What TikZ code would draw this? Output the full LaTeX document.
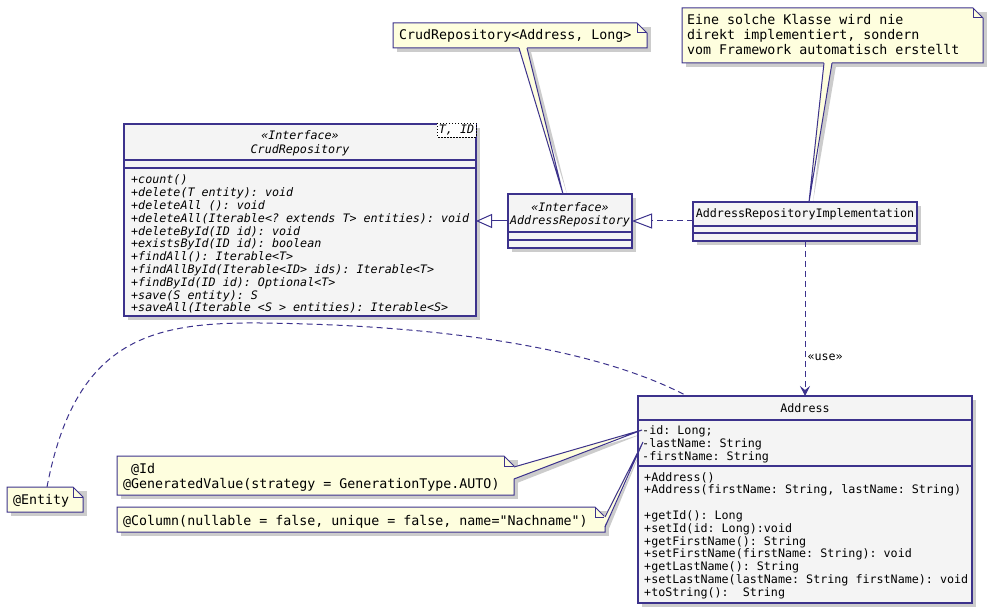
\documentclass[tikz,border=0pt]{standalone}
\usepackage{fontspec}
\setmonofont{DejaVu Sans Mono}
\usetikzlibrary{calc,arrows.meta,positioning}

\definecolor{umlline}{RGB}{60,50,140}
\definecolor{umlfill}{RGB}{244,244,244}
\definecolor{notefill}{RGB}{254,254,222}
\definecolor{shadowgray}{RGB}{204,204,204}

\newcommand{\clsfont}{\fontsize{11.7}{12.8}\selectfont\ttfamily}
\newcommand{\notefont}{\fontsize{13.3}{15}\selectfont\ttfamily}

\tikzset{
  umlbox/.style={draw=umlline, fill=umlfill, line width=1.2pt},
  umlnote/.style={draw=umlline, fill=notefill, line width=1pt},
  umlshadow/.style={fill=shadowgray},
  clstext/.style={inner sep=0pt, font=\clsfont},
  clsital/.style={inner sep=0pt, font=\clsfont\itshape},
  notetext/.style={inner sep=0pt, anchor=base west, font=\notefont},
  umlline/.style={draw=umlline, line width=1pt},
  umldash/.style={umlline, dash pattern=on 6pt off 4pt},
}

\begin{document}
\begin{tikzpicture}[x=1pt,y=-1pt]
\useasboundingbox (0,0) rectangle (993,612);

\coordinate (crudNW) at (124,124);
\coordinate (crudSE) at (476,316);
\coordinate (repoNW) at (508,194);
\coordinate (repoSE) at (632,248);
\coordinate (implNW) at (693,202);
\coordinate (implSE) at (917,241);
\coordinate (addrNW) at (638,396);
\coordinate (addrSE) at (972,603);

% connector ends
\coordinate (crudE) at (476,221);
\coordinate (repoW) at (508,221);
\coordinate (repoE) at (632,221);
\coordinate (repoN) at (563,194);
\coordinate (implW) at (693,221);
\coordinate (implS) at (805,241);
\coordinate (implN) at (809,202);
\coordinate (addrN) at (805,396);
\coordinate (addrTop) at (687,396);
\coordinate (addrId) at (642,430);
\coordinate (addrLast) at (643,442);
\coordinate (entityN) at (47,487);

% shadows
\foreach \a/\b in {crudNW/crudSE, repoNW/repoSE, implNW/implSE, addrNW/addrSE}{
  \fill[umlshadow] ($(\a)+(4,4)$) rectangle ($(\b)+(4,4)$);}
\foreach \xa/\ya/\xb/\yb in {393/23/647/48, 682/8/983/63, 7/487/83/512, 117/456/514/495, 117/507/605/532}{
  \fill[umlshadow] (\xa+4,\ya+4) rectangle (\xb+4,\yb+4);}
\fill[umlshadow] (523,52) -- ($(repoN)+(4,0)$) -- (531,52) -- cycle;
\fill[umlshadow] (828,66) -- ($(implN)+(4,0)$) -- (836,66) -- cycle;
\fill[umlshadow] (517,471) -- ($(addrId)+(0,4)$) -- (517,483) -- cycle;
\fill[umlshadow] (608,521) -- ($(addrLast)+(0,4)$) -- (608,531) -- cycle;

% links
\draw[umldash] (entityN) .. controls (75,340) and (150,322) .. (260,323)
  .. controls (450,325) and (600,350) .. (addrTop);
\draw[umlline, -{Triangle[open, length=16pt, width=14pt]}] (repoW) -- (crudE);
\draw[umldash, -{Triangle[open, length=20pt, width=15pt]}] (implW) -- (repoE);
\draw[umldash, -{Stealth[length=10pt, width=10pt, inset=4pt]}] (implS) -- (addrN)
  node[pos=0.75, right, font=\clsfont, inner sep=2pt] (useLbl) {«use»};

% classes
\foreach \a/\b in {crudNW/crudSE, repoNW/repoSE, implNW/implSE, addrNW/addrSE}{
  \draw[umlbox] (\a) rectangle (\b);}
\foreach \xa/\xb/\y in {124/476/160, 124/476/168, 508/632/232, 508/632/240,
                        693/917/226, 693/917/233, 638/972/420, 638/972/466}{
  \draw[umlline, line width=1.2pt] (\xa,\y) -- (\xb,\y);}

\draw[dash pattern=on 1.5pt off 1.5pt, fill=white, line width=0.8pt] (437,123) rectangle (476,137);
\node[clsital] (crudTpl) at (456.5,130) {T, ID};
\node[clsital] (crudStereo) at (300,135) {«Interface»};
\node[clsital] (crudName) at (300,150) {CrudRepository};
\foreach \m [count=\i] in {+count(), +delete(T entity): void, +deleteAll (): void,
    +deleteAll(Iterable<? extends T> entities): void, +deleteById(ID id): void,
    +existsById(ID id): boolean, +findAll(): Iterable<T>,
    +findAllById(Iterable<ID> ids): Iterable<T>, +findById(ID id): Optional<T>,
    +save(S entity): S, +saveAll(Iterable <S > entities): Iterable<S>}{
  \node[clsital, anchor=base west] (crudM\i) at (131,{184+12.8*(\i-1)}) {\m};}

\node[clsital] (repoStereo) at (570,207) {«Interface»};
\node[clsital] (repoName) at (570,221) {AddressRepository};
\node[clstext] (implName) at (805,214) {AddressRepositoryImplementation};

\node[clstext] (addrName) at (805,408) {Address};
\foreach \m [count=\i] in {-id: Long;, -lastName: String, -firstName: String}{
  \node[clstext, anchor=base west] (addrA\i) at (642,{434+13*(\i-1)}) {\m};}
\foreach \n/\m in {0/+Address(), 1/{+Address(firstName: String, lastName: String)},
    3/+getId(): Long, 4/+setId(id: Long):void, 5/+getFirstName(): String,
    6/+setFirstName(firstName: String): void, 7/+getLastName(): String,
    8/+setLastName(lastName: String firstName): void, 9/+toString():~~String}{
  \node[clstext, anchor=base west] (addrM\n) at (644,{481+12.8*\n}) {\m};}

% notes
\foreach \xa/\ya/\xb/\yb in {393/23/647/48, 682/8/983/63, 7/487/83/512, 117/456/514/495, 117/507/605/532}{
  \draw[umlnote] (\xa,\ya) -- (\xb-10,\ya) -- (\xb,\ya+10) -- (\xb,\yb) -- (\xa,\yb) -- cycle;
  \draw[umlnote, fill=none] (\xb-10,\ya) -- (\xb-10,\ya+10) -- (\xb,\ya+10);}

% note tails
\fill[notefill] (519,47) -- (repoN) -- (527,47) -- cycle;
\draw[umlline] (519,48) -- (repoN) -- (527,48);
\fill[notefill] (824,62) -- (implN) -- (832,62) -- cycle;
\draw[umlline] (824,63) -- (implN) -- (832,63);
\fill[notefill] (513,467) -- (addrId) -- (513,479) -- cycle;
\draw[umlline] (514,467) -- (addrId) -- (514,479);
\fill[notefill] (604,517) -- (addrLast) -- (604,527) -- cycle;
\draw[umlline] (605,517) -- (addrLast) -- (605,527);

\node[notetext] (noteCrud) at (399,40) {CrudRepository<Address, Long>};
\foreach \t [count=\i] in {Eine solche Klasse wird nie, {direkt implementiert, sondern},
    vom Framework automatisch erstellt}{
  \node[notetext] (noteImpl\i) at (687,{25+15*(\i-1)}) {\t};}
\node[notetext] (noteEntity) at (13,504) {@Entity};
\node[notetext] (noteId) at (131,473) {@Id};
\node[notetext] (noteGen) at (123,488.5) {@GeneratedValue(strategy = GenerationType.AUTO)};
\node[notetext] (noteCol) at (123,525.5) {@Column(nullable = false, unique = false, name="Nachname")};
\end{tikzpicture}
\end{document}
